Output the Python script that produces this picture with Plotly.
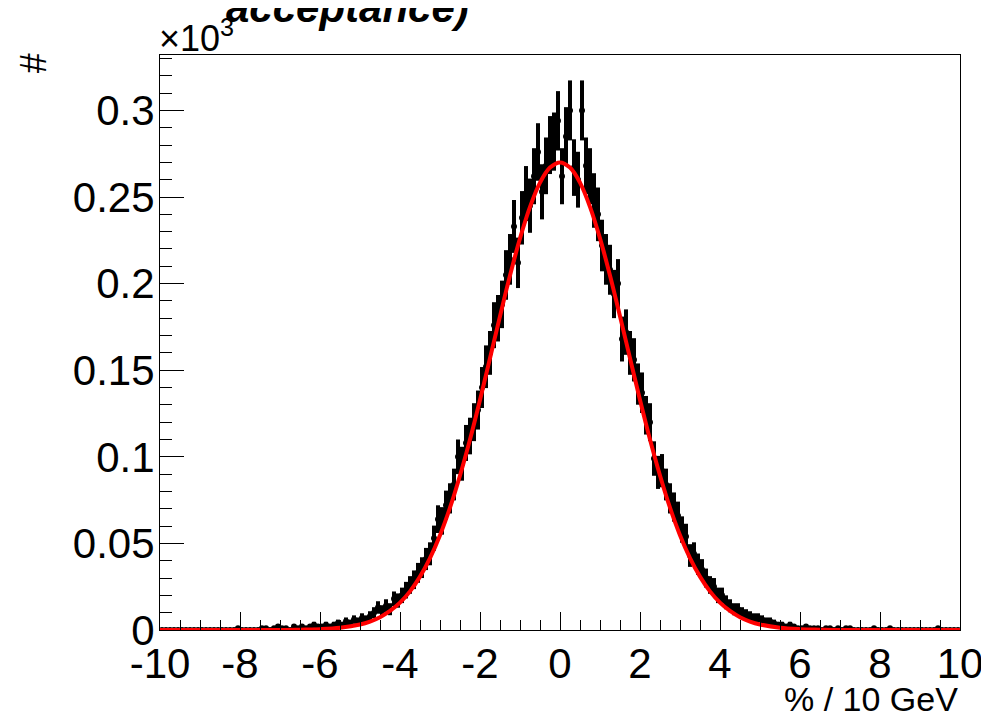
import numpy as np
import plotly.graph_objects as go

# histogram: 200 bins of 0.1 between -10 and 10, entries per bin
bin_lo = -10.0
bin_width = 0.1
counts = [
    0, 0, 0, 0, 0, 0, 0, 0, 0, 0,
    0, 0, 0, 0, 0, 0, 0, 0, 0, 1,
    0, 0, 0, 0, 0, 1, 1, 0, 1, 2,
    1, 1, 0, 2, 1, 2, 1, 2, 3, 2,
    2, 3, 2, 3, 4, 3, 5, 4, 6, 5,
    7, 6, 8, 10, 13, 11, 14, 12, 18, 17,
    20, 23, 26, 29, 33, 36, 41, 44, 53, 64,
    63, 72, 76, 84, 100, 96, 108, 112, 120, 127,
    140, 152, 160, 176, 180, 188, 205, 214, 233, 212,
    238, 252, 245, 262, 276, 253, 268, 280, 282, 294,
    262, 285, 300, 267, 260, 300, 268, 262, 248, 240,
    222, 214, 208, 194, 200, 168, 172, 160, 156, 142,
    137, 124, 120, 99, 91, 92, 84, 76, 71, 66,
    58, 54, 43, 44, 38, 35, 30, 26, 25, 20,
    20, 16, 14, 12, 12, 10, 9, 8, 7, 7,
    6, 5, 5, 4, 3, 3, 2, 3, 2, 1,
    1, 2, 1, 1, 1, 0, 1, 1, 0, 1,
    0, 1, 1, 0, 0, 0, 0, 0, 1, 0,
    0, 0, 1, 0, 0, 0, 0, 0, 0, 0,
    0, 0, 0, 0, 1, 0, 0, 0, 0, 0,
]

# gaussian fit curve (in units of 10^3)
fit_x = [-10, -7, -6.5, -6, -5.5, -5, -4.75, -4.5, -4.25, -4, -3.75, -3.5, -3.25, -3,
         -2.75, -2.5, -2.25, -2, -1.75, -1.5, -1.25, -1, -0.75, -0.5, -0.25, 0,
         0.25, 0.5, 0.75, 1, 1.25, 1.5, 1.75, 2, 2.25, 2.5, 2.75, 3, 3.25, 3.5,
         3.75, 4, 4.25, 4.5, 4.75, 5, 5.5, 6, 6.5, 7, 10]
fit_y = [0, 0, 0.0002, 0.0005, 0.0013, 0.0032, 0.0049, 0.0074, 0.011, 0.0158, 0.0223, 0.0308, 0.0415, 0.0547,
         0.0706, 0.0892, 0.110, 0.1328, 0.1569, 0.1812, 0.2047, 0.2261, 0.2443, 0.2583, 0.267, 0.270,
         0.267, 0.2583, 0.2443, 0.2261, 0.2047, 0.1812, 0.1569, 0.1328, 0.110, 0.0892, 0.0706, 0.0547, 0.0415, 0.0308,
         0.0223, 0.0158, 0.011, 0.0074, 0.0049, 0.0032, 0.0013, 0.0005, 0.0002, 0, 0]

x_ticks = [-10, -8, -6, -4, -2, 0, 2, 4, 6, 8, 10]
x_tick_text = ["-10", "-8", "-6", "-4", "-2", "0", "2", "4", "6", "8", "10"]

counts = np.array(counts, dtype=float)
centers = bin_lo + bin_width * (np.arange(len(counts)) + 0.5)
y = counts / 1000.0
yerr = np.sqrt(counts) / 1000.0

FONT = "Liberation Sans, Arial, sans-serif"

fig = go.Figure()
fig.add_trace(go.Scatter(
    x=centers, y=y, mode="markers",
    marker=dict(size=0, color="black", line=dict(width=0)),
    error_y=dict(type="data", array=yerr, color="black", thickness=4, width=0),
    error_x=dict(type="constant", value=bin_width / 2, color="black", thickness=3, width=0),
    showlegend=False,
))
fig.add_trace(go.Scatter(
    x=fit_x, y=fit_y, mode="lines", line=dict(color="#ff0000", width=4, shape="spline"),
    showlegend=False,
))

fig.update_xaxes(
    range=[-10, 10], tickvals=x_ticks, ticktext=x_tick_text,
    ticks="inside", ticklen=18, tickcolor="black", tickwidth=1,
    minor=dict(dtick=0.5, ticks="inside", ticklen=10, tickcolor="black", tickwidth=1),
    showline=True, linecolor="black", linewidth=1, mirror=True,
    showgrid=False, zeroline=False, ticklabelstandoff=-3,
    tickfont=dict(family=FONT, size=42, color="black"),
)
fig.update_yaxes(
    range=[0, 0.332], dtick=0.05, tick0=0,
    ticks="inside", ticklen=24, tickcolor="black", tickwidth=1,
    minor=dict(dtick=0.01, ticks="inside", ticklen=12, tickcolor="black", tickwidth=1),
    showline=True, linecolor="black", linewidth=1, mirror=True,
    showgrid=False, zeroline=False, ticklabelstandoff=-4,
    tickfont=dict(family=FONT, size=42, color="black"),
)

fig.add_annotation(text="<b><i>acceptance)</i></b>", xref="paper", yref="paper",
                   x=0.234, y=1.082, xanchor="center", yanchor="middle", showarrow=False,
                   font=dict(family=FONT, size=42, color="black"))
fig.add_annotation(text="×10<sup>3</sup>", xref="paper", yref="paper",
                   x=-0.004, y=0.99, xanchor="left", yanchor="bottom", showarrow=False,
                   font=dict(family=FONT, size=36, color="black"))
fig.add_annotation(text="#", xref="paper", yref="paper", textangle=-90,
                   x=-0.158, y=0.985, xanchor="center", yanchor="middle", showarrow=False,
                   font=dict(family=FONT, size=36, color="black"))
fig.add_annotation(text="% / 10 GeV", xref="paper", yref="paper",
                   x=1.0, y=-0.083, xanchor="right", yanchor="top", showarrow=False,
                   font=dict(family=FONT, size=34, color="black"))

# page body has an 8px margin, so the figure is sized to fit the 989x718 window
fig.update_layout(
    width=981, height=710,
    margin=dict(l=152, r=29, t=47, b=88, autoexpand=False),
    paper_bgcolor="white", plot_bgcolor="white",
)

fig.write_html("out.html")
